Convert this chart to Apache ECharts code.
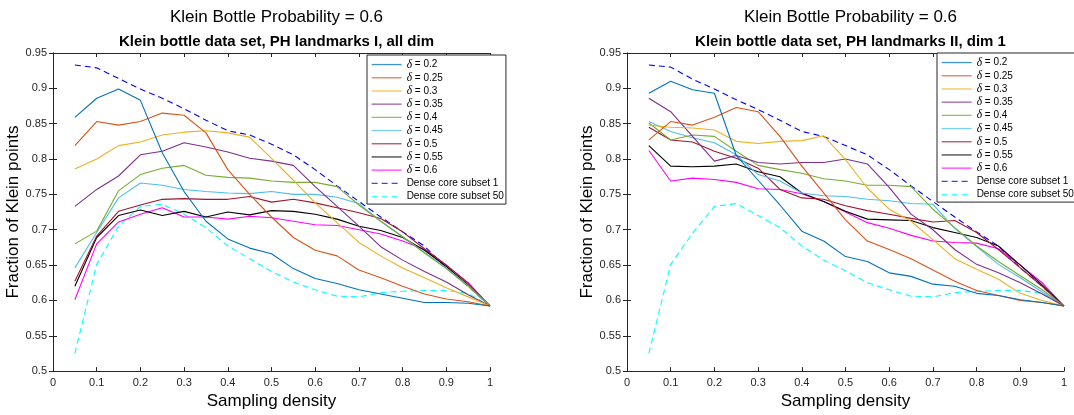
<!DOCTYPE html>
<html>
<head>
<meta charset="utf-8">
<script src="https://cdn.jsdelivr.net/npm/echarts@6/dist/echarts.min.js"></script>
<style>
html,body{margin:0;padding:0;background:#fff;}
#c{width:1074px;height:415px;}
</style>
</head>
<body>
<div id="c"></div>
<script>
// ---- data ----
const density = [0.05,0.1,0.15,0.2,0.25,0.3,0.35,0.4,0.45,0.5,0.55,0.6,0.65,0.7,0.75,0.8,0.85,0.9,0.95,1.0];
const seriesNames = ['δ = 0.2','δ = 0.25','δ = 0.3','δ = 0.35','δ = 0.4','δ = 0.45','δ = 0.5','δ = 0.55','δ = 0.6','Dense core subset 1','Dense core subset 50'];
const xTicks = ['0','0.1','0.2','0.3','0.4','0.5','0.6','0.7','0.8','0.9','1'];
const yTicks = ['0.5','0.55','0.6','0.65','0.7','0.75','0.8','0.85','0.9','0.95'];
const titleTop = 'Klein Bottle Probability = 0.6';
const subTitleLeft = 'Klein bottle data set, PH landmarks I, all dim';
const subTitleRight = 'Klein bottle data set, PH landmarks II, dim 1';

// left panel (landmarks I, all dim)
const L_d020 = [0.859,0.886,0.899,0.883,0.809,0.754,0.712,0.687,0.674,0.666,0.645,0.631,0.624,0.615,0.609,0.603,0.597,0.597,0.596,0.592];
const L_d025 = [0.819,0.853,0.848,0.853,0.865,0.862,0.837,0.785,0.750,0.718,0.689,0.671,0.663,0.643,0.632,0.620,0.609,0.602,0.598,0.592];
const L_d030 = [0.786,0.800,0.819,0.824,0.834,0.838,0.840,0.837,0.831,0.801,0.770,0.738,0.710,0.682,0.663,0.646,0.632,0.618,0.605,0.592];
const L_d035 = [0.733,0.757,0.776,0.806,0.811,0.823,0.817,0.810,0.801,0.797,0.791,0.761,0.733,0.705,0.676,0.657,0.641,0.626,0.608,0.592];
const L_d040 = [0.680,0.698,0.755,0.778,0.787,0.791,0.777,0.774,0.773,0.769,0.767,0.767,0.761,0.735,0.712,0.690,0.667,0.645,0.620,0.592];
const L_d045 = [0.646,0.696,0.745,0.766,0.763,0.757,0.754,0.752,0.751,0.754,0.750,0.750,0.746,0.737,0.712,0.690,0.668,0.646,0.621,0.592];
const L_d050 = [0.627,0.691,0.726,0.735,0.743,0.744,0.743,0.743,0.747,0.739,0.743,0.738,0.731,0.724,0.716,0.697,0.673,0.650,0.624,0.592];
const L_d055 = [0.620,0.689,0.720,0.728,0.720,0.726,0.718,0.725,0.721,0.727,0.726,0.722,0.715,0.705,0.699,0.689,0.671,0.648,0.622,0.592];
const L_d060 = [0.601,0.680,0.711,0.722,0.731,0.718,0.718,0.715,0.719,0.717,0.712,0.707,0.706,0.700,0.694,0.684,0.672,0.650,0.625,0.592];
const L_core1 = [0.933,0.929,0.914,0.899,0.886,0.871,0.855,0.840,0.834,0.821,0.806,0.785,0.762,0.740,0.718,0.697,0.677,0.646,0.620,0.592];
const L_core50 = [0.525,0.651,0.705,0.733,0.736,0.722,0.703,0.677,0.659,0.641,0.626,0.615,0.606,0.605,0.611,0.613,0.614,0.614,0.610,0.592];

// right panel (landmarks II, dim 1)
const R_d020 = [0.893,0.910,0.898,0.893,0.805,0.770,0.735,0.698,0.684,0.662,0.655,0.639,0.634,0.623,0.620,0.610,0.607,0.601,0.597,0.592];
const R_d025 = [0.827,0.853,0.848,0.859,0.873,0.867,0.832,0.790,0.752,0.714,0.684,0.672,0.659,0.643,0.627,0.614,0.607,0.600,0.597,0.592];
const R_d030 = [0.848,0.845,0.844,0.841,0.825,0.822,0.825,0.826,0.833,0.799,0.759,0.729,0.712,0.686,0.659,0.644,0.630,0.610,0.600,0.592];
const R_d035 = [0.886,0.867,0.832,0.797,0.805,0.795,0.793,0.795,0.795,0.800,0.793,0.760,0.722,0.700,0.672,0.651,0.639,0.625,0.609,0.592];
const R_d040 = [0.851,0.827,0.834,0.832,0.811,0.791,0.785,0.780,0.772,0.769,0.763,0.763,0.761,0.729,0.703,0.677,0.655,0.635,0.615,0.592];
const R_d045 = [0.853,0.839,0.830,0.823,0.806,0.778,0.769,0.752,0.748,0.747,0.743,0.741,0.737,0.736,0.702,0.676,0.651,0.632,0.612,0.592];
const R_d050 = [0.845,0.827,0.824,0.811,0.801,0.787,0.757,0.745,0.743,0.734,0.727,0.722,0.716,0.711,0.713,0.696,0.672,0.646,0.620,0.592];
const R_d055 = [0.819,0.790,0.789,0.790,0.793,0.782,0.775,0.752,0.740,0.726,0.715,0.714,0.713,0.703,0.696,0.689,0.677,0.650,0.622,0.592];
const R_d060 = [0.812,0.769,0.773,0.771,0.767,0.758,0.757,0.751,0.740,0.725,0.710,0.702,0.692,0.684,0.682,0.681,0.673,0.650,0.625,0.592];
const R_core1 = [0.933,0.930,0.913,0.899,0.884,0.870,0.855,0.839,0.832,0.819,0.806,0.785,0.762,0.740,0.718,0.697,0.677,0.646,0.620,0.592];
const R_core50 = [0.525,0.651,0.695,0.733,0.737,0.720,0.703,0.677,0.657,0.642,0.625,0.615,0.606,0.605,0.611,0.613,0.614,0.614,0.610,0.592];

const leftData = [L_d020,L_d025,L_d030,L_d035,L_d040,L_d045,L_d050,L_d055,L_d060,L_core1,L_core50];
const rightData = [R_d020,R_d025,R_d030,R_d035,R_d040,R_d045,R_d050,R_d055,R_d060,R_core1,R_core50];

// ---- styles ----
const colors = ['#0072BD','#D95319','#EDB120','#7E2F8E','#77AC30','#4DBEEE','#A2142F','#000000','#FF00FF','#0000FF','#00FFFF'];
const dashed = [false,false,false,false,false,false,false,false,false,true,true];
const FONT = "'Liberation Sans', Arial, Helvetica, sans-serif";
const AX = '#262626';

const chart = echarts.init(document.getElementById('c'), null, {renderer:'canvas'});

const grids = [
  {left:53, top:53, width:437, height:319},
  {left:627, top:53, width:437, height:319}
];

function bottomX(gi){
  return {type:'value', gridIndex:gi, min:0, max:1, interval:0.1, position:'bottom',
    name:'Sampling density', nameLocation:'middle', nameGap:19,
    nameTextStyle:{fontFamily:FONT, fontSize:17, color:'#000'},
    axisLine:{show:true, lineStyle:{color:AX, width:1}},
    axisTick:{show:true, inside:true, length:4, lineStyle:{color:AX}},
    axisLabel:{show:true, fontFamily:FONT, fontSize:11, color:AX, margin:6,
      formatter:(v)=>xTicks[Math.round(v*10)]},
    splitLine:{show:false}};
}
function topX(gi){
  return {type:'value', gridIndex:gi, min:0, max:1, interval:0.1, position:'top',
    axisLine:{show:true, lineStyle:{color:AX, width:1}},
    axisTick:{show:true, inside:true, length:4, lineStyle:{color:AX}},
    axisLabel:{show:false}, splitLine:{show:false}};
}
function leftY(gi){
  return {type:'value', gridIndex:gi, min:0.5, max:0.95, interval:0.05, position:'left',
    name:'Fraction of Klein points', nameLocation:'middle', nameGap:27, nameRotate:90,
    nameTextStyle:{fontFamily:FONT, fontSize:17, color:'#000'},
    axisLine:{show:true, lineStyle:{color:AX, width:1}},
    axisTick:{show:true, inside:true, length:4, lineStyle:{color:AX}},
    axisLabel:{show:true, fontFamily:FONT, fontSize:11, color:AX, margin:6,
      formatter:(v)=>yTicks[Math.round((v-0.5)/0.05)]},
    splitLine:{show:false}};
}
function rightY(gi){
  return {type:'value', gridIndex:gi, min:0.5, max:0.95, interval:0.05, position:'right',
    axisLine:{show:true, lineStyle:{color:AX, width:1}},
    axisTick:{show:true, inside:true, length:4, lineStyle:{color:AX}},
    axisLabel:{show:false}, splitLine:{show:false}};
}

const series = [];
[leftData, rightData].forEach((set, gi) => {
  set.forEach((vals, i) => {
    series.push({
      type:'line', name:seriesNames[i], xAxisIndex:gi, yAxisIndex:gi,
      data: density.map((x,k)=>[x, vals[k]]),
      showSymbol:false, symbol:'none', animation:false, silent:true,
      lineStyle:{color:colors[i], width:1.1, type: dashed[i] ? [6,4] : 'solid'},
      itemStyle:{color:colors[i]},
      z: 10 - i
    });
  });
});

function legendFmt(name){
  if (name.charAt(0) === 'δ') return '{d|δ}' + name.slice(1);
  return name;
}
function makeLegend(left, top){
  return {
    show:true, orient:'vertical', left:left, top:top,
    data: seriesNames.map(n=>({name:n})),
    itemWidth:30, itemHeight:13, itemGap:0.1,
    padding:[3,2,1,4],
    borderColor:AX, borderWidth:1, backgroundColor:'#fff',
    selectedMode:false, formatter:legendFmt,
    itemStyle:{opacity:0},
    lineStyle:{width:1.3, opacity:0.75},
    textStyle:{fontFamily:FONT, fontSize:10, color:'#000', lineHeight:13.1,
      rich:{d:{fontFamily:"'Liberation Serif','DejaVu Serif',serif", fontStyle:'italic', fontSize:11.5, lineHeight:13.1, color:'#000'}}}
  };
}

const option = {
  backgroundColor:'#fff',
  animation:false,
  title:[
    {text:titleTop, left:271.5, top:4, textAlign:'center', textStyle:{fontFamily:FONT, fontSize:17, fontWeight:'normal', color:'#000'}},
    {text:subTitleLeft, left:271.5, top:29, textAlign:'center', textStyle:{fontFamily:FONT, fontSize:15, fontWeight:'bold', color:'#000'}},
    {text:titleTop, left:845.5, top:4, textAlign:'center', textStyle:{fontFamily:FONT, fontSize:17, fontWeight:'normal', color:'#000'}},
    {text:subTitleRight, left:845.5, top:29, textAlign:'center', textStyle:{fontFamily:FONT, fontSize:15, fontWeight:'bold', color:'#000'}}
  ],
  legend:[makeLegend(367,55), makeLegend(937,53)],
  grid: grids,
  xAxis:[bottomX(0), bottomX(1), topX(0), topX(1)],
  yAxis:[leftY(0), leftY(1), rightY(0), rightY(1)],
  series: series
};
chart.setOption(option);
</script>
</body>
</html>
